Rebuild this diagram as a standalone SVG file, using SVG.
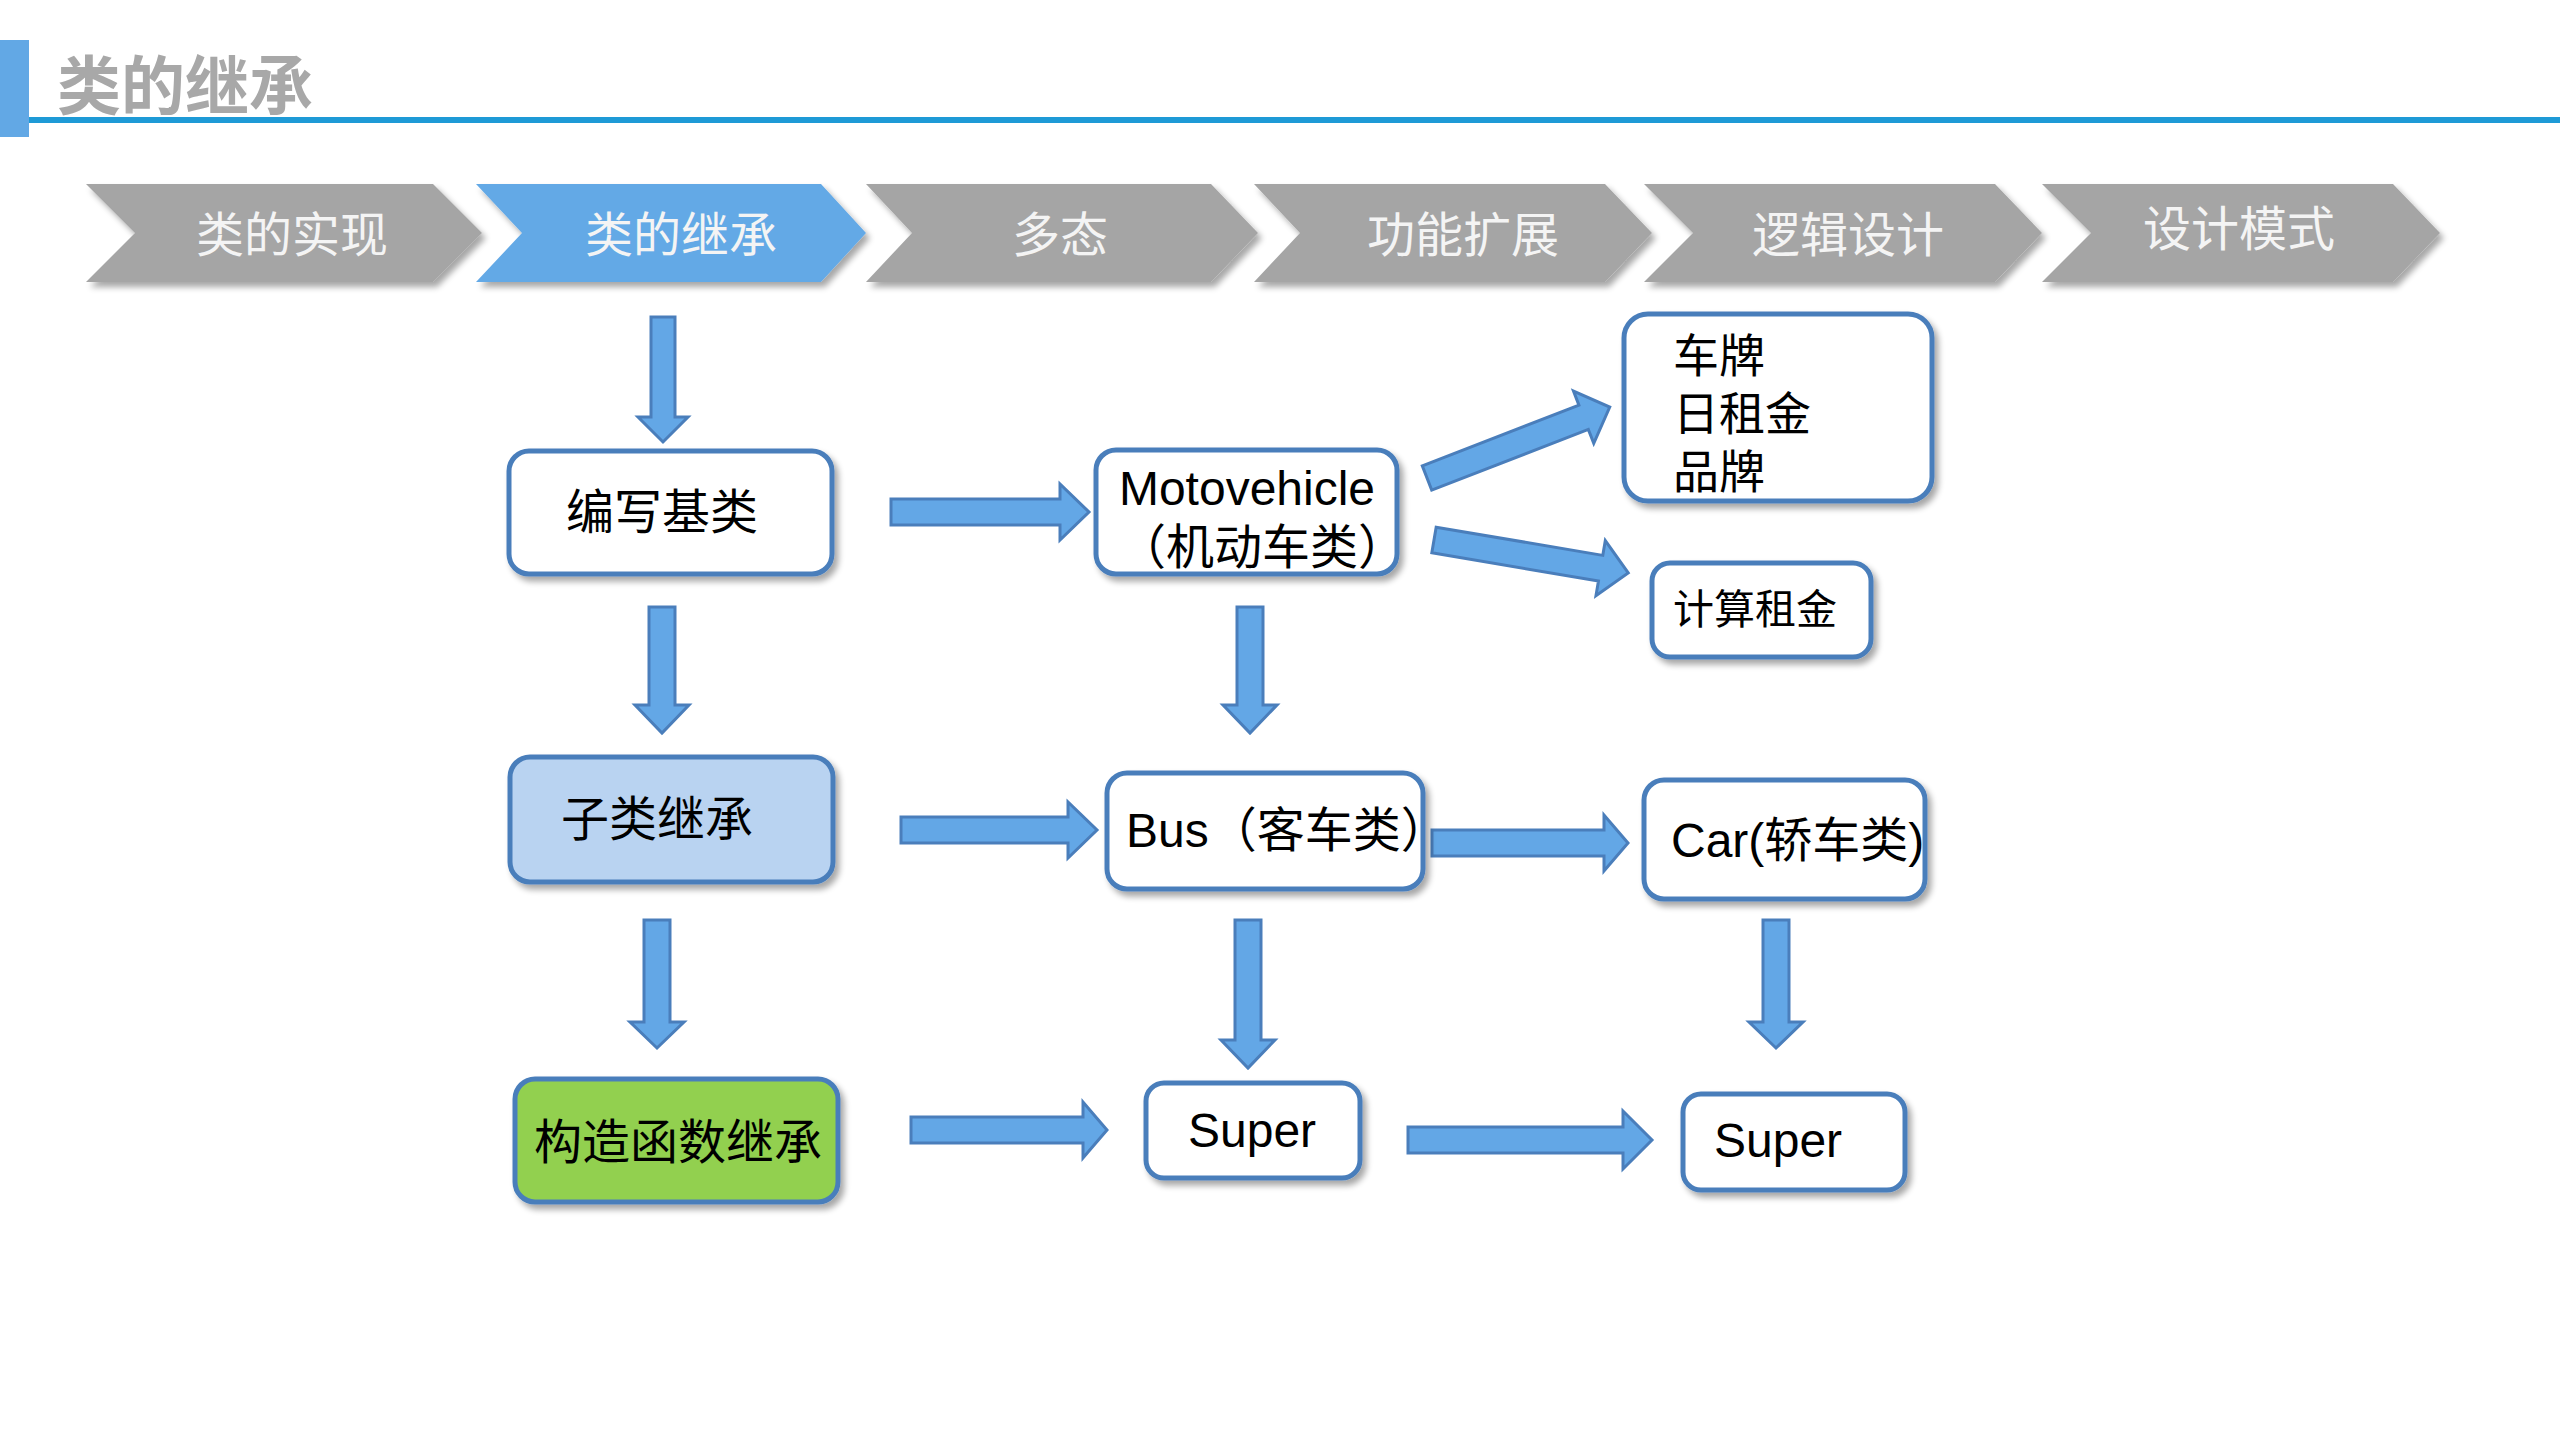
<svg xmlns="http://www.w3.org/2000/svg" width="2560" height="1440" viewBox="0 0 2560 1440">
  <defs>
    <filter id="shadow" x="-10%" y="-10%" width="125%" height="130%">
      <feGaussianBlur in="SourceAlpha" stdDeviation="3"/>
      <feOffset dx="4" dy="5" result="b"/>
      <feComponentTransfer><feFuncA type="linear" slope="0.35"/></feComponentTransfer>
      <feMerge><feMergeNode/><feMergeNode in="SourceGraphic"/></feMerge>
    </filter>
    <style>
      .step { fill: #a5a5a5; filter: url(#shadow); }
      .step.active { fill: #64a9e6; }
      .stepText { font-family: "Noto Sans CJK SC", sans-serif; font-size: 48px; fill: #f4f4f4; text-anchor: middle; }
      .box { fill: #ffffff; stroke: #4a7ebb; stroke-width: 5; filter: url(#shadow); }
      .label { font-family: "Liberation Sans", "Noto Sans CJK SC", sans-serif; font-size: 48px; fill: #000000; }
      .small { font-size: 46px; }
      .smaller { font-size: 41px; }
      .arrow { fill: #63a7e6; stroke: #4a7ebb; stroke-width: 3; stroke-linejoin: miter; }
    </style>
  </defs>

  <rect width="2560" height="1440" fill="#ffffff"/>

  <!-- header -->
  <g id="header">
    <rect x="0" y="40" width="29" height="97" fill="#62a8e5"/>
    <rect x="29" y="117" width="2531" height="6" fill="#1e9ad6"/>
    <text x="57" y="109" font-family="Noto Sans CJK SC, sans-serif" font-size="64" font-weight="bold" fill="#a8a8a8">类的继承</text>
  </g>

  <!-- step ribbon -->
  <g id="steps">
    <g id="step1">
      <polygon class="step" points="86,184 433,184 482,233 433,282 86,282 135,233"/>
      <text class="stepText" x="292" y="252">类的实现</text>
    </g>
    <g id="step2">
      <polygon class="step active" points="476,184 821,184 866,233 821,282 476,282 522,233"/>
      <text class="stepText" x="681" y="252">类的继承</text>
    </g>
    <g id="step3">
      <polygon class="step" points="866,184 1211,184 1258,233 1211,282 866,282 912,233"/>
      <text class="stepText" x="1060" y="252">多态</text>
    </g>
    <g id="step4">
      <polygon class="step" points="1254,184 1605,184 1652,233 1605,282 1254,282 1300,233"/>
      <text class="stepText" x="1463" y="252">功能扩展</text>
    </g>
    <g id="step5">
      <polygon class="step" points="1644,184 1995,184 2042,233 1995,282 1644,282 1693,233"/>
      <text class="stepText" x="1848" y="252">逻辑设计</text>
    </g>
    <g id="step6">
      <polygon class="step" points="2042,184 2393,184 2440,233 2393,282 2042,282 2091,233"/>
      <text class="stepText" x="2239" y="246">设计模式</text>
    </g>
  </g>

  <!-- connectors -->
  <g id="connectors">
    <polygon class="arrow" points="651,317 675,317 675,417 688,417 663,442 638,417 651,417"/>
    <polygon class="arrow" points="891,499 1060,499 1060,484 1089,512 1060,540 1060,525 891,525"/>
    <polygon class="arrow" points="649,607 675,607 675,705 689,705 662,733 635,705 649,705"/>
    <polygon class="arrow" points="1237,607 1263,607 1263,705 1277,705 1250,733 1223,705 1237,705"/>
    <polygon class="arrow" transform="translate(1427,478) rotate(-21.2)" points="0,-13 168,-13 168,-28 196,0 168,28 168,13 0,13"/>
    <polygon class="arrow" transform="translate(1434,540) rotate(9.6)" points="0,-13 169,-13 169,-28 197,0 169,28 169,13 0,13"/>
    <polygon class="arrow" points="901,817 1068,817 1068,802 1097,830 1068,858 1068,843 901,843"/>
    <polygon class="arrow" points="1432,830 1604,830 1604,815 1628,843 1604,871 1604,856 1432,856"/>
    <polygon class="arrow" points="644,920 670,920 670,1022 684,1022 657,1048 630,1022 644,1022"/>
    <polygon class="arrow" points="1235,920 1261,920 1261,1040 1275,1040 1248,1068 1221,1040 1235,1040"/>
    <polygon class="arrow" points="1763,920 1789,920 1789,1022 1803,1022 1776,1048 1749,1022 1763,1022"/>
    <polygon class="arrow" points="911,1117 1083,1117 1083,1102 1107,1130 1083,1158 1083,1143 911,1143"/>
    <polygon class="arrow" points="1408,1127 1623,1127 1623,1111 1652,1140 1623,1169 1623,1153 1408,1153"/>
  </g>

  <!-- nodes -->
  <g id="node-base">
    <rect class="box" x="509" y="451" width="323" height="123" rx="20"/>
    <text class="label" x="662" y="529" text-anchor="middle">编写基类</text>
  </g>
  <g id="node-motovehicle">
    <rect class="box" x="1096" y="450" width="301" height="124" rx="20"/>
    <text class="label" x="1247" y="505" text-anchor="middle">Motovehicle</text>
    <text class="label" x="1118" y="564">（机动车类）</text>
  </g>
  <g id="node-fields">
    <rect class="box" x="1624" y="314" width="308" height="187" rx="24"/>
    <text class="label small" x="1673" y="372">车牌</text>
    <text class="label small" x="1673" y="430">日租金</text>
    <text class="label small" x="1673" y="488">品牌</text>
  </g>
  <g id="node-rent">
    <rect class="box" x="1652" y="563" width="219" height="94" rx="18"/>
    <text class="label smaller" x="1673" y="624">计算租金</text>
  </g>
  <g id="node-subclass">
    <rect class="box" x="510" y="757" width="323" height="125" rx="20" style="fill:#b9d3f1"/>
    <text class="label" x="657" y="836" text-anchor="middle">子类继承</text>
  </g>
  <g id="node-bus">
    <rect class="box" x="1107" y="773" width="316" height="116" rx="20"/>
    <text class="label" x="1126" y="847">Bus（客车类）</text>
  </g>
  <g id="node-car">
    <rect class="box" x="1644" y="780" width="281" height="119" rx="20"/>
    <text class="label" x="1671" y="857">Car(轿车类)</text>
  </g>
  <g id="node-constructor">
    <rect class="box" x="515" y="1079" width="323" height="123" rx="20" style="fill:#92d050"/>
    <text class="label" x="678" y="1159" text-anchor="middle">构造函数继承</text>
  </g>
  <g id="node-super1">
    <rect class="box" x="1146" y="1083" width="214" height="95" rx="18"/>
    <text class="label" x="1188" y="1147">Super</text>
  </g>
  <g id="node-super2">
    <rect class="box" x="1683" y="1094" width="222" height="96" rx="18"/>
    <text class="label" x="1714" y="1157">Super</text>
  </g>
</svg>
